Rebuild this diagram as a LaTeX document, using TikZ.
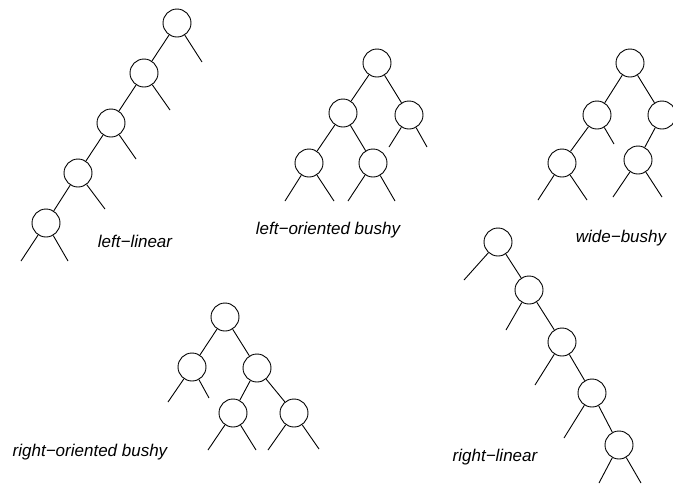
\documentclass[tikz,border=0pt]{standalone}
\usepackage{fontspec}
\setmainfont{Liberation Sans}
\begin{document}
\begin{tikzpicture}[x=1pt,y=-1pt,line width=0.9pt,
  tn/.style={circle,draw,minimum size=28pt,inner sep=0pt},
  lbl/.style={font=\fontsize{17}{20}\selectfont\itshape,inner sep=0pt}]
\useasboundingbox (0,0) rectangle (673,483);
\clip (0,0) rectangle (673,483);
% left-linear
\node[tn] (a1) at (177,23) {};
\node[tn] (a2) at (144,73) {};
\node[tn] (a3) at (111,123) {};
\node[tn] (a4) at (78,173) {};
\node[tn] (a5) at (46,223) {};
\coordinate (a1r) at (202,62);
\coordinate (a2r) at (170,110);
\coordinate (a3r) at (136,159);
\coordinate (a4r) at (105,209);
\coordinate (a5l) at (21,261);
\coordinate (a5r) at (68,261);
\draw (a1) -- (a2) (a2) -- (a3) (a3) -- (a4) (a4) -- (a5);
\draw (a1) -- (a1r) (a2) -- (a2r) (a3) -- (a3r) (a4) -- (a4r) (a5) -- (a5l) (a5) -- (a5r);
\node[lbl] (la) at (135,241) {left−linear};
% left-oriented bushy
\node[tn] (b) at (377,63) {};
\node[tn] (bl) at (343,113) {};
\node[tn] (br) at (409,115) {};
\node[tn] (bll) at (309,163) {};
\node[tn] (blr) at (373,163) {};
\coordinate (brl) at (389,147);
\coordinate (brr) at (427,147);
\coordinate (blll) at (285,201);
\coordinate (bllr) at (334,201);
\coordinate (blrl) at (348,201);
\coordinate (blrr) at (395,201);
\draw (b) -- (bl) (b) -- (br) (bl) -- (bll) (bl) -- (blr);
\draw (br) -- (brl) (br) -- (brr) (bll) -- (blll) (bll) -- (bllr) (blr) -- (blrl) (blr) -- (blrr);
\node[lbl] (lb) at (328,230) {left−oriented bushy};
% wide-bushy
\node[tn] (c) at (630,63) {};
\node[tn] (cl) at (597,115) {};
\node[tn] (cr) at (662,115) {};
\node[tn] (cll) at (562,163) {};
\node[tn] (crl) at (638,160) {};
\coordinate (clr) at (614,144);
\coordinate (clll) at (538,200);
\coordinate (cllr) at (587,200);
\coordinate (crll) at (613,197);
\coordinate (crlr) at (662,197);
\draw (c) -- (cl) (c) -- (cr) (cl) -- (cll) (cr) -- (crl);
\draw (cl) -- (clr) (cll) -- (clll) (cll) -- (cllr) (crl) -- (crll) (crl) -- (crlr);
\node[lbl] (lc) at (621,238) {wide−bushy};
% right-oriented bushy
\node[tn] (d) at (225,317) {};
\node[tn] (dl) at (192,367) {};
\node[tn] (dr) at (257,368) {};
\node[tn] (drl) at (233,413) {};
\node[tn] (drr) at (294,413) {};
\coordinate (dll) at (168,402);
\coordinate (dlr) at (209,398);
\coordinate (drll) at (208,450);
\coordinate (drlr) at (256,450);
\coordinate (drrl) at (268,450);
\coordinate (drrr) at (319,449);
\draw (d) -- (dl) (d) -- (dr) (dr) -- (drl) (dr) -- (drr);
\draw (dl) -- (dll) (dl) -- (dlr) (drl) -- (drll) (drl) -- (drlr) (drr) -- (drrl) (drr) -- (drrr);
\node[lbl] (ld) at (90,452) {right−oriented bushy};
% right-linear
\node[tn] (e1) at (498,242) {};
\node[tn] (e2) at (529,290) {};
\node[tn] (e3) at (562,342) {};
\node[tn] (e4) at (592,393) {};
\node[tn] (e5) at (619,445) {};
\coordinate (e1l) at (464,280);
\coordinate (e2l) at (506,330);
\coordinate (e3l) at (535,385);
\coordinate (e4l) at (564,438);
\coordinate (e5l) at (599,483);
\coordinate (e5r) at (641,483);
\draw (e1) -- (e2) (e2) -- (e3) (e3) -- (e4) (e4) -- (e5);
\draw (e1) -- (e1l) (e2) -- (e2l) (e3) -- (e3l) (e4) -- (e4l) (e5) -- (e5l) (e5) -- (e5r);
\node[lbl] (le) at (495,457) {right−linear};
\end{tikzpicture}
\end{document}
